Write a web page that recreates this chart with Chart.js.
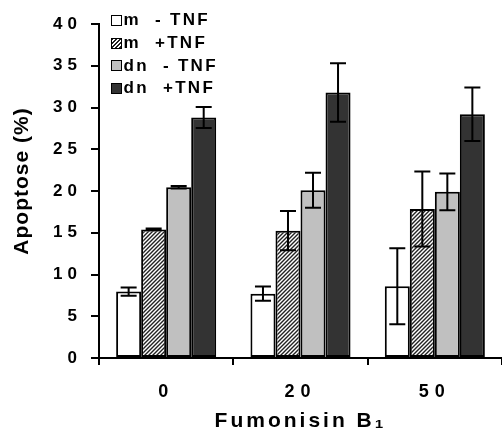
<!DOCTYPE html>
<html>
<head>
<meta charset="utf-8">
<script src="https://cdn.jsdelivr.net/npm/chart.js@4.4.1/dist/chart.umd.min.js"></script>
<style>
  body { margin: 0; background: #fff; }
  #wrap { position: relative; width: 502px; height: 442px; }
  #legend {
    position: absolute; left: 111px; top: 9px;
    font: bold 17px "Liberation Sans", Arial, sans-serif;
    letter-spacing: 2.3px; white-space: pre; color: #000;
  }
  .row { height: 22.7px; display: flex; align-items: center; }
  .sw { box-sizing: border-box; width: 11px; height: 11px; border: 1.5px solid #000; margin-right: 1.5px; }
</style>
</head>
<body>
<div id="wrap">
  <canvas id="chart"></canvas>
  <div id="legend"></div>
</div>
<script>
// Data
const categories = ['0', '20', '50'];
const seriesLabels = ['m  - TNF', 'm  +TNF', 'dn  - TNF', 'dn  +TNF'];
const mMinus = [7.95, 7.7, 8.6];
const mMinusErr = [0.5, 0.85, 4.55];
const mPlus = [15.4, 15.25, 17.85];
const mPlusErr = [0.1, 2.35, 4.5];
const dnMinus = [20.45, 20.1, 19.9];
const dnMinusErr = [0.15, 2.1, 2.2];
const dnPlus = [28.8, 31.8, 29.2];
const dnPlusErr = [1.25, 3.5, 3.2];
const yTickValues = [0, 5, 10, 15, 20, 25, 30, 35, 40];

const FONT = '"Liberation Sans", Arial, sans-serif';
const canvas = document.getElementById('chart');

// diagonal hatch for the m +TNF bars
function makeHatch() {
    const c = document.createElement('canvas');
    c.width = 4; c.height = 4;
    const g = c.getContext('2d');
    g.fillStyle = '#fff';
    g.fillRect(0, 0, 4, 4);
    g.strokeStyle = '#222';
    g.lineWidth = 1.4;
    g.beginPath();
    g.moveTo(0, 4); g.lineTo(4, 0);
    g.moveTo(-1, 1); g.lineTo(1, -1);
    g.moveTo(3, 5); g.lineTo(5, 3);
    g.stroke();
    return canvas.getContext('2d').createPattern(c, 'repeat');
}

const fills = ['#ffffff', makeHatch(), '#c0c0c0', '#333333'];
const cssFills = ['#ffffff', 'repeating-linear-gradient(135deg, #222 0 1.4px, #fff 1.4px 2.8px)', '#c0c0c0', '#333333'];
const values = [mMinus, mPlus, dnMinus, dnPlus];
const errors = [mMinusErr, mPlusErr, dnMinusErr, dnPlusErr];

// letter spacing for the spaced-out Excel look
function addSpacing(scale, method, px, dy) {
    const orig = scale[method];
    scale[method] = function (...args) {
        const ctx = this.ctx;
        ctx.save();
        ctx.letterSpacing = px + 'px';
        if (dy) ctx.translate(0, dy);
        orig.apply(this, args);
        ctx.restore();
    };
}

const errorBars = {
    id: 'errorBars',
    afterDatasetsDraw(chart) {
        const ctx = chart.ctx;
        const y = chart.scales.y;
        ctx.save();
        ctx.strokeStyle = '#000';
        ctx.lineWidth = 2;
        chart.data.datasets.forEach((ds, i) => {
            const meta = chart.getDatasetMeta(i);
            meta.data.forEach((bar, j) => {
                const v = ds.data[j], e = errors[i][j];
                const top = y.getPixelForValue(v + e);
                const bot = y.getPixelForValue(v - e);
                const x = bar.x;
                ctx.beginPath();
                ctx.moveTo(x, top); ctx.lineTo(x, bot);
                ctx.moveTo(x - 8, top); ctx.lineTo(x + 8, top);
                ctx.moveTo(x - 8, bot); ctx.lineTo(x + 8, bot);
                ctx.stroke();
            });
        });
        ctx.restore();
    }
};

new Chart(canvas, {
    type: 'bar',
    data: {
        labels: categories,
        datasets: seriesLabels.map((label, i) => ({
            label: label,
            data: values[i],
            backgroundColor: fills[i],
            borderColor: '#000',
            borderWidth: 2,
            borderSkipped: false,
            categoryPercentage: 0.745,
            barPercentage: 1.0
        }))
    },
    options: {
        responsive: true,
        maintainAspectRatio: false,
        animation: false,
        layout: { padding: { top: 24, right: 0, left: 0, bottom: 0 } },
        plugins: {
            legend: { display: false },
            tooltip: { enabled: false }
        },
        scales: {
            x: {
                grid: { drawOnChartArea: false, color: '#000', lineWidth: 2, tickLength: 7, offset: true },
                border: { color: '#000', width: 2 },
                ticks: {
                    color: '#000', padding: 16, maxRotation: 0, autoSkip: false,
                    font: { family: FONT, size: 18, weight: 'bold' }
                },
                title: {
                    display: true, text: 'Fumonisin B₁', color: '#000',
                    font: { family: FONT, size: 21, weight: 'bold' },
                    padding: { top: 0, bottom: 8 }
                },
                afterFit: s => { s.height = 84; },
                afterUpdate: s => {
                    if (s._spaced) return;
                    s._spaced = true;
                    addSpacing(s, 'drawLabels', 6, 0);
                    addSpacing(s, 'drawTitle', 3, 0);
                }
            },
            y: {
                min: 0,
                max: 40,
                grid: { drawOnChartArea: false, color: '#000', lineWidth: 2, tickLength: 8 },
                border: { color: '#000', width: 2 },
                ticks: {
                    color: '#000', padding: 9,
                    font: { family: FONT, size: 17, weight: 'bold' }
                },
                afterBuildTicks: s => { s.ticks = yTickValues.map(v => ({ value: v })); },
                title: {
                    display: true, text: 'Apoptose (%)', color: '#000',
                    font: { family: FONT, size: 21, weight: 'bold' },
                    padding: { top: 10, bottom: 0 }
                },
                afterFit: s => { s.width = 99; },
                afterUpdate: s => {
                    if (s._spaced) return;
                    s._spaced = true;
                    addSpacing(s, 'drawLabels', 5, 0);
                    addSpacing(s, 'drawTitle', 1, -10);
                }
            }
        }
    },
    plugins: [errorBars]
});

// HTML legend
const legendEl = document.getElementById('legend');
seriesLabels.forEach((label, i) => {
    const row = document.createElement('div');
    row.className = 'row';
    const sw = document.createElement('span');
    sw.className = 'sw';
    sw.style.background = cssFills[i];
    const txt = document.createElement('span');
    txt.textContent = label;
    row.appendChild(sw);
    row.appendChild(txt);
    legendEl.appendChild(row);
});
</script>
</body>
</html>
